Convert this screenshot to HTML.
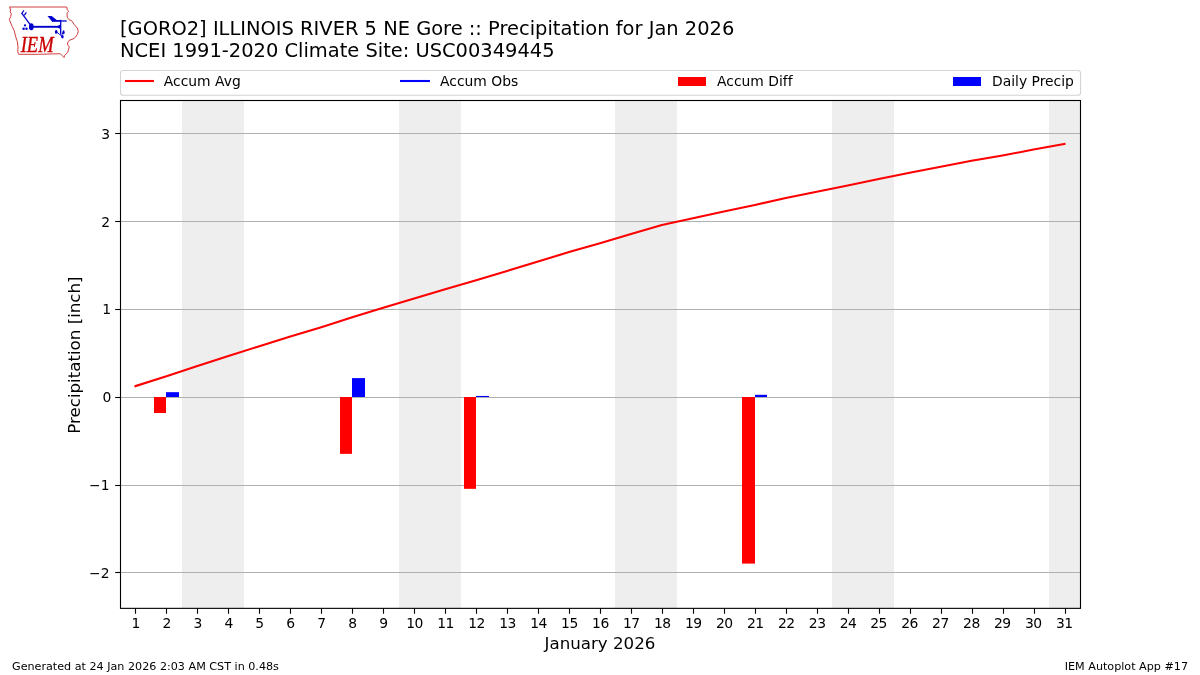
<!DOCTYPE html>
<html lang="en"><head><meta charset="utf-8"><title>IEM Autoplot #17</title>
<style>
html,body{margin:0;padding:0;background:#fff;}
body{width:1200px;height:675px;overflow:hidden;}
svg{display:block;}
text{font-family:"DejaVu Sans","Liberation Sans",sans-serif;fill:#000;font-variant-ligatures:none;}
.t14{font-size:19.44px;}
.t12{font-size:16.67px;}
.t10{font-size:13.89px;}
.t8{font-size:11.16px;}
</style></head><body>
<svg width="1200" height="675" viewBox="0 0 1200 675">
<rect width="1200" height="675" fill="#fff"/>

<rect x="182.00" y="100.50" width="62.00" height="507.85" fill="#eeeeee"/>
<rect x="399.00" y="100.50" width="62.00" height="507.85" fill="#eeeeee"/>
<rect x="615.00" y="100.50" width="62.00" height="507.85" fill="#eeeeee"/>
<rect x="832.00" y="100.50" width="62.00" height="507.85" fill="#eeeeee"/>
<rect x="1049.00" y="100.50" width="31.00" height="507.85" fill="#eeeeee"/>
<line x1="120.5" x2="1080.5" y1="133.5" y2="133.5" stroke="#b0b0b0" stroke-width="1.11"/>
<line x1="120.5" x2="1080.5" y1="221.5" y2="221.5" stroke="#b0b0b0" stroke-width="1.11"/>
<line x1="120.5" x2="1080.5" y1="309.5" y2="309.5" stroke="#b0b0b0" stroke-width="1.11"/>
<line x1="120.5" x2="1080.5" y1="397.5" y2="397.5" stroke="#b0b0b0" stroke-width="1.11"/>
<line x1="120.5" x2="1080.5" y1="485.5" y2="485.5" stroke="#b0b0b0" stroke-width="1.11"/>
<line x1="120.5" x2="1080.5" y1="572.5" y2="572.5" stroke="#b0b0b0" stroke-width="1.11"/>
<rect x="154" y="397" width="12" height="16.01" fill="#ff0000"/>
<rect x="166" y="392.17" width="13" height="4.83" fill="#0000ff"/>
<rect x="340" y="397" width="12" height="56.86" fill="#ff0000"/>
<rect x="352" y="378.11" width="13" height="18.89" fill="#0000ff"/>
<rect x="464" y="397" width="12" height="91.83" fill="#ff0000"/>
<rect x="476" y="395.95" width="13" height="1.05" fill="#0000ff"/>
<rect x="742" y="397" width="13" height="166.59" fill="#ff0000"/>
<rect x="755" y="394.80" width="12" height="2.20" fill="#0000ff"/>
<polyline points="135.48,386.10 166.45,376.30 197.42,366.00 228.39,356.00 259.35,346.20 290.32,336.40 321.29,327.20 352.26,317.30 383.23,307.70 414.19,298.40 445.16,289.30 476.13,280.30 507.10,270.90 538.06,261.40 569.03,252.10 600.00,243.20 630.97,234.00 661.94,224.90 692.90,218.20 723.87,211.60 754.84,204.90 785.81,198.10 816.77,191.80 847.74,185.60 878.71,179.10 909.68,172.70 940.65,166.70 971.61,160.80 1002.58,155.50 1033.55,149.60 1064.52,143.90" fill="none" stroke="#ff0000" stroke-width="2.08" stroke-linejoin="round" stroke-linecap="square"/>
<rect x="120.5" y="100.5" width="960.0" height="507.85" fill="none" stroke="#000" stroke-width="1.11"/>
<line x1="135.5" x2="135.5" y1="608.35" y2="613.75" stroke="#000" stroke-width="1.11"/>
<text class="t10" x="135.88" y="628" text-anchor="middle">1</text>
<line x1="166.5" x2="166.5" y1="608.35" y2="613.75" stroke="#000" stroke-width="1.11"/>
<text class="t10" x="166.85" y="628" text-anchor="middle">2</text>
<line x1="197.5" x2="197.5" y1="608.35" y2="613.75" stroke="#000" stroke-width="1.11"/>
<text class="t10" x="197.82" y="628" text-anchor="middle">3</text>
<line x1="228.5" x2="228.5" y1="608.35" y2="613.75" stroke="#000" stroke-width="1.11"/>
<text class="t10" x="228.79" y="628" text-anchor="middle">4</text>
<line x1="259.5" x2="259.5" y1="608.35" y2="613.75" stroke="#000" stroke-width="1.11"/>
<text class="t10" x="259.75" y="628" text-anchor="middle">5</text>
<line x1="290.5" x2="290.5" y1="608.35" y2="613.75" stroke="#000" stroke-width="1.11"/>
<text class="t10" x="290.72" y="628" text-anchor="middle">6</text>
<line x1="321.5" x2="321.5" y1="608.35" y2="613.75" stroke="#000" stroke-width="1.11"/>
<text class="t10" x="321.69" y="628" text-anchor="middle">7</text>
<line x1="352.5" x2="352.5" y1="608.35" y2="613.75" stroke="#000" stroke-width="1.11"/>
<text class="t10" x="352.66" y="628" text-anchor="middle">8</text>
<line x1="383.5" x2="383.5" y1="608.35" y2="613.75" stroke="#000" stroke-width="1.11"/>
<text class="t10" x="383.63" y="628" text-anchor="middle">9</text>
<line x1="414.5" x2="414.5" y1="608.35" y2="613.75" stroke="#000" stroke-width="1.11"/>
<text class="t10" x="414.59" y="628" text-anchor="middle" letter-spacing="-0.5">10</text>
<line x1="445.5" x2="445.5" y1="608.35" y2="613.75" stroke="#000" stroke-width="1.11"/>
<text class="t10" x="445.56" y="628" text-anchor="middle" letter-spacing="-0.5">11</text>
<line x1="476.5" x2="476.5" y1="608.35" y2="613.75" stroke="#000" stroke-width="1.11"/>
<text class="t10" x="476.53" y="628" text-anchor="middle" letter-spacing="-0.5">12</text>
<line x1="507.5" x2="507.5" y1="608.35" y2="613.75" stroke="#000" stroke-width="1.11"/>
<text class="t10" x="507.50" y="628" text-anchor="middle" letter-spacing="-0.5">13</text>
<line x1="538.5" x2="538.5" y1="608.35" y2="613.75" stroke="#000" stroke-width="1.11"/>
<text class="t10" x="538.46" y="628" text-anchor="middle" letter-spacing="-0.5">14</text>
<line x1="569.5" x2="569.5" y1="608.35" y2="613.75" stroke="#000" stroke-width="1.11"/>
<text class="t10" x="569.43" y="628" text-anchor="middle" letter-spacing="-0.5">15</text>
<line x1="600.5" x2="600.5" y1="608.35" y2="613.75" stroke="#000" stroke-width="1.11"/>
<text class="t10" x="600.40" y="628" text-anchor="middle" letter-spacing="-0.5">16</text>
<line x1="631.5" x2="631.5" y1="608.35" y2="613.75" stroke="#000" stroke-width="1.11"/>
<text class="t10" x="631.37" y="628" text-anchor="middle" letter-spacing="-0.5">17</text>
<line x1="662.5" x2="662.5" y1="608.35" y2="613.75" stroke="#000" stroke-width="1.11"/>
<text class="t10" x="662.34" y="628" text-anchor="middle" letter-spacing="-0.5">18</text>
<line x1="693.5" x2="693.5" y1="608.35" y2="613.75" stroke="#000" stroke-width="1.11"/>
<text class="t10" x="693.30" y="628" text-anchor="middle" letter-spacing="-0.5">19</text>
<line x1="724.5" x2="724.5" y1="608.35" y2="613.75" stroke="#000" stroke-width="1.11"/>
<text class="t10" x="724.27" y="628" text-anchor="middle" letter-spacing="-0.5">20</text>
<line x1="755.5" x2="755.5" y1="608.35" y2="613.75" stroke="#000" stroke-width="1.11"/>
<text class="t10" x="755.24" y="628" text-anchor="middle" letter-spacing="-0.5">21</text>
<line x1="786.5" x2="786.5" y1="608.35" y2="613.75" stroke="#000" stroke-width="1.11"/>
<text class="t10" x="786.21" y="628" text-anchor="middle" letter-spacing="-0.5">22</text>
<line x1="817.5" x2="817.5" y1="608.35" y2="613.75" stroke="#000" stroke-width="1.11"/>
<text class="t10" x="817.17" y="628" text-anchor="middle" letter-spacing="-0.5">23</text>
<line x1="848.5" x2="848.5" y1="608.35" y2="613.75" stroke="#000" stroke-width="1.11"/>
<text class="t10" x="848.14" y="628" text-anchor="middle" letter-spacing="-0.5">24</text>
<line x1="879.5" x2="879.5" y1="608.35" y2="613.75" stroke="#000" stroke-width="1.11"/>
<text class="t10" x="878.51" y="628" text-anchor="middle" letter-spacing="-0.5">25</text>
<line x1="910.5" x2="910.5" y1="608.35" y2="613.75" stroke="#000" stroke-width="1.11"/>
<text class="t10" x="909.48" y="628" text-anchor="middle" letter-spacing="-0.5">26</text>
<line x1="941.5" x2="941.5" y1="608.35" y2="613.75" stroke="#000" stroke-width="1.11"/>
<text class="t10" x="940.45" y="628" text-anchor="middle" letter-spacing="-0.5">27</text>
<line x1="972.5" x2="972.5" y1="608.35" y2="613.75" stroke="#000" stroke-width="1.11"/>
<text class="t10" x="971.41" y="628" text-anchor="middle" letter-spacing="-0.5">28</text>
<line x1="1003.5" x2="1003.5" y1="608.35" y2="613.75" stroke="#000" stroke-width="1.11"/>
<text class="t10" x="1002.38" y="628" text-anchor="middle" letter-spacing="-0.5">29</text>
<line x1="1034.5" x2="1034.5" y1="608.35" y2="613.75" stroke="#000" stroke-width="1.11"/>
<text class="t10" x="1033.35" y="628" text-anchor="middle" letter-spacing="-0.5">30</text>
<line x1="1065.5" x2="1065.5" y1="608.35" y2="613.75" stroke="#000" stroke-width="1.11"/>
<text class="t10" x="1064.32" y="628" text-anchor="middle" letter-spacing="-0.5">31</text>
<line x1="115.2" x2="120.5" y1="133.5" y2="133.5" stroke="#000" stroke-width="1.11"/>
<text class="t10" x="110.2" y="139" text-anchor="end">3</text>
<line x1="115.2" x2="120.5" y1="221.5" y2="221.5" stroke="#000" stroke-width="1.11"/>
<text class="t10" x="110.0" y="227" text-anchor="end">2</text>
<line x1="115.2" x2="120.5" y1="309.5" y2="309.5" stroke="#000" stroke-width="1.11"/>
<text class="t10" x="111.1" y="314" text-anchor="end">1</text>
<line x1="115.2" x2="120.5" y1="397.5" y2="397.5" stroke="#000" stroke-width="1.11"/>
<text class="t10" x="111.3" y="402" text-anchor="end">0</text>
<line x1="115.2" x2="120.5" y1="485.5" y2="485.5" stroke="#000" stroke-width="1.11"/>
<text class="t10" x="109.5" y="490" text-anchor="end">−1</text>
<line x1="115.2" x2="120.5" y1="572.5" y2="572.5" stroke="#000" stroke-width="1.11"/>
<text class="t10" x="109.5" y="578" text-anchor="end">−2</text>
<text class="t12" x="600" y="649" text-anchor="middle">January 2026</text>
<text class="t12" transform="translate(80,355.1) rotate(-90)" text-anchor="middle">Precipitation [inch]</text>
<text class="t14" x="120" y="35">[GORO2] ILLINOIS RIVER 5 NE Gore :: Precipitation for Jan 2026</text>
<text class="t14" x="120" y="57">NCEI 1991-2020 Climate Site: USC00349445</text>
<rect x="120.5" y="70.5" width="960.1" height="24.7" rx="2.8" ry="2.8" fill="#fff" stroke="#d4d4d4" stroke-width="1.11"/>
<line x1="125" x2="154" y1="81" y2="81" stroke="#ff0000" stroke-width="2.08"/>
<text class="t10" x="163.8" y="86">Accum Avg</text>
<line x1="400" x2="430" y1="81" y2="81" stroke="#0000ff" stroke-width="2.08"/>
<text class="t10" x="440" y="86">Accum Obs</text>
<rect x="678" y="77" width="28" height="9" fill="#ff0000"/>
<text class="t10" x="717" y="86">Accum Diff</text>
<rect x="953" y="77" width="28" height="9" fill="#0000ff"/>
<text class="t10" x="992" y="86">Daily Precip</text>
<text class="t8" x="12" y="669.5">Generated at 24 Jan 2026 2:03 AM CST in 0.48s</text>
<text class="t8" x="1188" y="669.5" text-anchor="end">IEM Autoplot App #17</text>
<g id="logo">
<path d="M9.5,7 L66.7,7 L67.3,10 L68.7,11.2 L67,13.3 L67.3,17.3 L69,19.7 L71.7,20.7 L74.3,24.7 L77.3,28 L78.3,31.2 L77.3,34.5 L74.3,38.4 L69,40.5 L68.3,41.5 L67.3,44 L69.3,47 L67.7,52.3 L64.7,55.3 L64,57.5 L60.3,53.7 L38.3,54.3 L18.7,54.3 L17.7,51.7 L18,47 L17.3,41.5 L15.8,37 L14.3,31 L12.3,26.7 L10.3,22 L9.3,19.3 L10.7,16.7 L11.3,13.3 L10,12 L10.7,10 Z" fill="none" stroke="#cf3535" stroke-width="0.95" stroke-linejoin="round"/>
<g stroke="#0000cc" fill="#0000cc" stroke-linecap="butt">
<ellipse cx="31.3" cy="26.7" rx="2.4" ry="3.5" stroke="none"/>
<line x1="31.3" y1="26.8" x2="60.5" y2="26.8" stroke-width="1.9"/>
<line x1="30.2" y1="24.6" x2="21.7" y2="13.2" stroke-width="1.3"/>
<line x1="21.5" y1="13.8" x2="23.9" y2="10.4" stroke-width="1.2"/>
<line x1="24.2" y1="15.4" x2="26.4" y2="12.3" stroke-width="1.2"/>
<circle cx="25" cy="25.4" r="1.15" stroke="none"/>
<circle cx="23.6" cy="28.8" r="1.25" stroke="none"/>
<circle cx="26.5" cy="28.8" r="1.25" stroke="none"/>
<line x1="60.7" y1="19.7" x2="60.7" y2="34.5" stroke-width="1.3"/>
<line x1="52" y1="21" x2="66.7" y2="21" stroke-width="1.3"/>
<polygon points="47.5,15.9 51.7,15.9 56.7,19.9 60.3,20.3 60.3,21.6 52,21.6" stroke="none"/>
<polygon points="57.5,26 60.5,24.5 60.5,29 57.5,27.6" stroke="none"/>
<ellipse cx="56.2" cy="31.9" rx="1.35" ry="1.9" stroke="none"/>
<ellipse cx="63.6" cy="32.3" rx="1.0" ry="2.1" stroke="none"/>
<ellipse cx="62.4" cy="36.8" rx="1.3" ry="1.7" stroke="none"/>
<line x1="56.2" y1="31.5" x2="62.6" y2="37" stroke-width="0.9"/>
<line x1="63.5" y1="31" x2="61.6" y2="35.5" stroke-width="0.9"/>
</g>
<text x="20.7" y="51.7" transform="" style="font-family:'Liberation Serif','DejaVu Serif',serif;font-style:italic;font-size:22.2px;fill:#cc0000;stroke:#cc0000;stroke-width:0.35px;" textLength="32.9" lengthAdjust="spacingAndGlyphs">IEM</text>
</g>

</svg></body></html>
